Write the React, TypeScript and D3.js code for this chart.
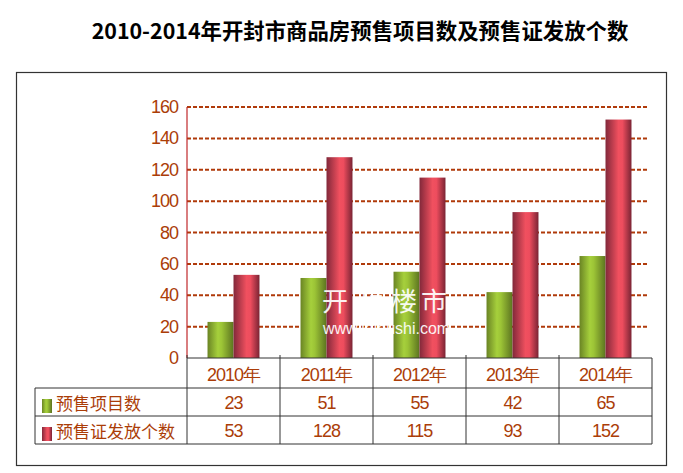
import React from "react";
import * as d3 from "d3";

const title = "2010-2014年开封市商品房预售项目数及预售证发放个数";
const categories = ["2010年", "2011年", "2012年", "2013年", "2014年"];
const seriesNames = ["预售项目数", "预售证发放个数"];
const projects = [23, 51, 55, 42, 65];
const permits = [53, 128, 115, 93, 152];
const yTicks = [0, 20, 40, 60, 80, 100, 120, 140, 160];
const watermarkChars = ["开", "封", "楼", "市"];

const W = 683;
const H = 473;
const left = 187;
const right = 652;
const top = 107;
const bottom = 358;
const textColor = "#ab3d08";
const numFont = "'Liberation Sans', Arial, sans-serif";
const cjkFont = "'Noto Sans CJK SC', sans-serif";

export default function App() {
  const x = d3.scaleBand<string>().domain(categories).range([left, right]).paddingInner(0).paddingOuter(0);
  const y = d3.scaleLinear().domain([0, 160]).range([bottom, top]);
  const inner = d3.scaleBand<string>().domain(seriesNames).range([0, x.bandwidth()]).paddingInner(0).paddingOuter(0.79);
  const seriesData = [projects, permits];
  const fills = ["url(#gGreen)", "url(#gRed)"];
  const rowTop = [388, 416];
  const rowBottom = 444;
  const wmX = [322, 357, 391, 421];

  return (
    <svg width={W} height={H} style={{ position: "absolute", left: 0, top: 0 }}>
      <defs>
        <linearGradient id="gGreen" x1="0" x2="1" y1="0" y2="0">
          <stop offset="0" stopColor="#6a8424" />
          <stop offset="0.4" stopColor="#a6d03c" />
          <stop offset="0.55" stopColor="#9cc436" />
          <stop offset="1" stopColor="#5c7420" />
        </linearGradient>
        <linearGradient id="gRed" x1="0" x2="1" y1="0" y2="0">
          <stop offset="0" stopColor="#82283a" />
          <stop offset="0.5" stopColor="#f0505f" />
          <stop offset="0.65" stopColor="#ee4d5e" />
          <stop offset="1" stopColor="#7a2434" />
        </linearGradient>
      </defs>
      <rect x={0} y={0} width={W} height={H} fill="#ffffff" />
      <text x={360} y={39} textAnchor="middle" fontFamily={cjkFont} fontWeight="bold" fontSize={21.4} fill="#000">
        {title}
      </text>
      <rect x={16.5} y={72.5} width={650} height={393} fill="none" stroke="#333" strokeWidth={1.2} />

      {/* gridlines */}
      {yTicks.filter((t) => t > 0).map((t) => (
        <line key={"g" + t} x1={left} x2={649} y1={y(t)} y2={y(t)} stroke="#b03a0a" strokeWidth={2} strokeDasharray="4,2" />
      ))}
      {/* y axis */}
      <line x1={left} x2={left} y1={top} y2={bottom} stroke="#c0282a" strokeWidth={1.2} />
      {yTicks.map((t) => (
        <text key={"t" + t} x={178} y={y(t) + 6} textAnchor="end" fontFamily={numFont} fontSize={18} letterSpacing={-1} fill={textColor}>
          {t}
        </text>
      ))}

      {/* bars */}
      {seriesData.map((vals, si) =>
        vals.map((v, i) => {
          const bx = (x(categories[i]) as number) + (inner(seriesNames[si]) as number);
          return (
            <rect key={`b${si}-${i}`} x={bx} y={y(v)} width={inner.bandwidth()} height={bottom - y(v)} fill={fills[si]} />
          );
        })
      )}

      {/* watermark */}
      <g fill="#ffffff" opacity={0.92}>
        {watermarkChars.map((ch, i) => (
          <text key={"w" + i} x={wmX[i]} y={311} fontFamily={cjkFont} fontSize={26}>{ch}</text>
        ))}
        <text x={323} y={334} fontFamily={numFont} fontSize={16}>www.kfloushi.com</text>
      </g>

      {/* table */}
      <g stroke="#333" strokeWidth={1} fill="none">
        <line x1={left} x2={right} y1={bottom} y2={bottom} />
        <line x1={35} x2={right} y1={rowTop[0]} y2={rowTop[0]} />
        <line x1={35} x2={right} y1={rowTop[1]} y2={rowTop[1]} />
        <line x1={35} x2={right} y1={rowBottom} y2={rowBottom} />
        <line x1={35} x2={35} y1={rowTop[0]} y2={rowBottom} />
        {categories.map((c) => (
          <line key={"v" + c} x1={x(c) as number} x2={x(c) as number} y1={bottom - 3} y2={rowBottom} />
        ))}
        <line x1={right} x2={right} y1={bottom} y2={rowBottom} />
      </g>
      {categories.map((c) => (
        <text key={"c" + c} x={(x(c) as number) + x.bandwidth() / 2} y={381} textAnchor="middle" fontFamily={numFont} fontSize={18} letterSpacing={-1} fill={textColor}>
          {c}
        </text>
      ))}
      {seriesNames.map((s, si) => (
        <g key={"r" + s}>
          <rect x={42} y={rowTop[si] + 11} width={10} height={14} fill={fills[si]} />
          <text x={56} y={rowTop[si] + 22} fontFamily={cjkFont} fontSize={17} fill={textColor}>
            {s}
          </text>
          {seriesData[si].map((v, i) => (
            <text key={"n" + i} x={(x(categories[i]) as number) + x.bandwidth() / 2} y={rowTop[si] + 21} textAnchor="middle" fontFamily={numFont} fontSize={18} letterSpacing={-1} fill={textColor}>
              {v}
            </text>
          ))}
        </g>
      ))}
    </svg>
  );
}
